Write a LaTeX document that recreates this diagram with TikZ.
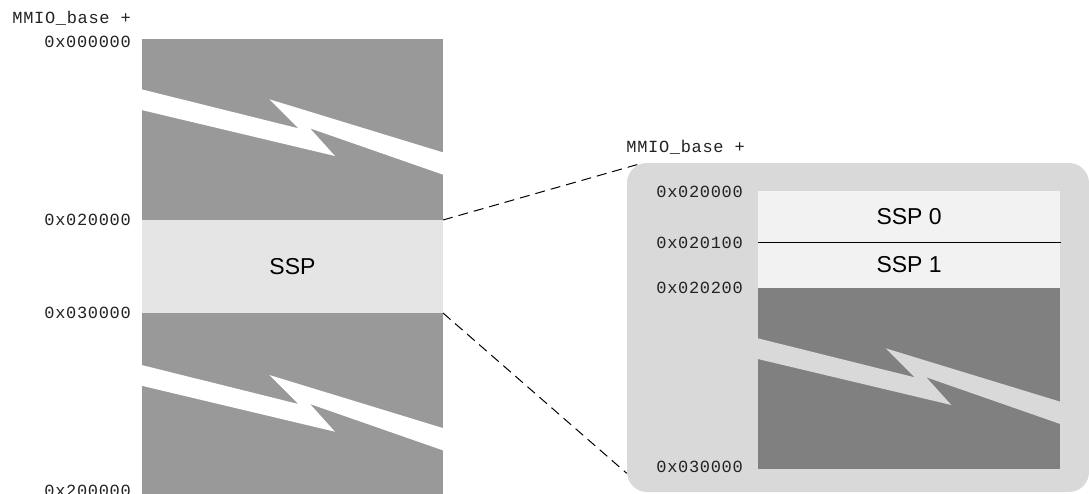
\documentclass[tikz,border=0pt]{standalone}
\usepackage{fontspec}
\setsansfont{Liberation Sans}
\newfontfamily\addrfont[LetterSpace=4]{Liberation Mono}
\definecolor{memgray}{HTML}{999999}
\definecolor{ssplight}{HTML}{E5E5E5}
\definecolor{panelgray}{HTML}{D9D9D9}
\definecolor{innerlight}{HTML}{F2F2F2}
\definecolor{darkmem}{HTML}{808080}
\definecolor{addrcol}{HTML}{222222}
\tikzset{
  region/.style={rectangle, inner sep=0pt, outer sep=0pt, draw=none, anchor=north west},
  addr/.style={font=\addrfont\fontsize{17}{17}\selectfont, text=addrcol, anchor=east, inner sep=0pt},
  lbl/.style={font=\sffamily\fontsize{23}{23}\selectfont, text=black},
  link/.style={draw=black, line width=1pt, dash pattern=on 10pt off 6pt}
}
\newcommand\breakband[3]{%
  \begin{scope}[shift={(#1,#2)}]
    \fill[#3] (-0.5,0) -- (156.3,39) -- (127.3,10) -- (302,63.4) -- (302,85.7) -- (168,39) -- (193,66.7) -- (-0.5,20.7) -- cycle;
  \end{scope}}
\begin{document}
\begin{tikzpicture}[x=1pt,y=-1pt]
\useasboundingbox (0,0) rectangle (1089,493);
% left column
\node[region, fill=memgray, minimum width=301pt, minimum height=181pt] (top) at (142,39) {};
\node[region, fill=ssplight, minimum width=301pt, minimum height=93pt] (ssp) at (142,220) {};
\node[lbl] (ssplbl) at (ssp.center) {SSP};
\node[region, fill=memgray, minimum width=301pt, minimum height=190pt] (bot) at (142,313) {};
\breakband{142}{89.3}{white}
\breakband{142}{365}{white}
% left labels
\node[addr] (mmio1) at (131,18) {MMIO\_base +};
\node[addr] (a0) at (131,42) {0x000000};
\node[addr] (a1) at (131,220) {0x020000};
\node[addr] (a2) at (131,313) {0x030000};
\node[addr] (a3) at (131,491) {0x200000};
% right panel
\node[region, fill=panelgray, rounded corners=20pt, minimum width=462pt, minimum height=329pt] (panel) at (627,163) {};
\node[region, fill=innerlight, minimum width=301.7pt, minimum height=51.6pt] (ssp0) at (758.3,190.7) {};
\node[lbl] (ssp0lbl) at (ssp0.center) {SSP 0};
\node[region, fill=innerlight, minimum width=301.7pt, minimum height=45.4pt] (ssp1) at (758.3,242.3) {};
\node[lbl] (ssp1lbl) at (ssp1.center) {SSP 1};
\node[region, fill=darkmem, minimum width=301.7pt, minimum height=181.6pt] (rest) at (758.3,287.7) {};
\draw[line width=1.6pt] (ssp0.south west) -- ([xshift=1pt]ssp0.south east);
\breakband{758.3}{338.3}{panelgray}
% right labels
\node[addr] (mmio2) at (745,147) {MMIO\_base +};
\node[addr] (b0) at (743,192) {0x020000};
\node[addr] (b1) at (743,243) {0x020100};
\node[addr] (b2) at (743,288) {0x020200};
\node[addr] (b3) at (743,467) {0x030000};
% dashed connectors
\coordinate (pt1) at (641.7,163.3);
\coordinate (pt2) at (626.7,473.3);
\draw[link] (ssp.north east) -- (pt1);
\draw[link] (ssp.south east) -- (pt2);
\end{tikzpicture}
\end{document}
